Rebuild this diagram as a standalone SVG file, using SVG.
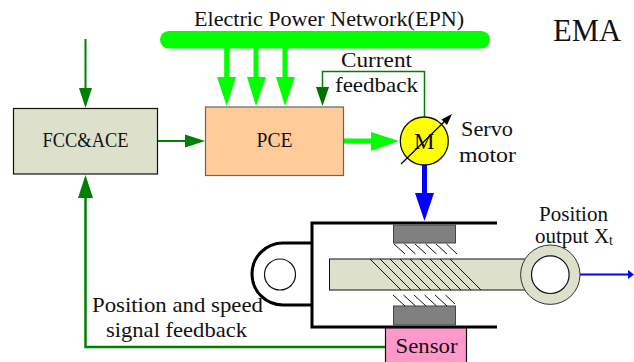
<svg xmlns="http://www.w3.org/2000/svg" width="634" height="362" viewBox="0 0 634 362">
<style>
text{font-family:"Liberation Serif","DejaVu Serif",serif;font-size:21px;fill:#111}
.g{fill:none;stroke:#008000;stroke-width:2}
.lg{fill:none;stroke:#00ff00;stroke-width:5}
.lgh{fill:#00ff00}
.dg{fill:#008000}
.h{stroke:#111;stroke-width:1;fill:none}
.k{fill:none;stroke:#000;stroke-width:3}
</style>
<rect width="634" height="362" fill="#fff"/>
<g id="connectors">
<path class="g" d="M85.500 39V90"/><path class="dg" d="M79 88H92L85.500 108Z"/>
<path class="g" d="M158 141H187"/><path class="dg" d="M185 134.500V147.500L205 141Z"/>
<path class="g" d="M385 347H85.500V196" style="stroke-width:2.500"/><path class="dg" d="M78 198H93L85.500 175Z"/>
<path d="M424.500 118V71.500H322.500V90" fill="none" stroke="#008000" stroke-width="1.500"/><path fill="#007000" d="M316 87H329L322.500 106Z"/>
<path class="lg" d="M226.700 48V79M256 48V79M285 48V79"/>
<path class="lgh" d="M217 77H236L226.700 106ZM247 77H266L256 106ZM276 77H295L285 106Z"/>
<path class="lg" d="M343 141H373"/><path class="lgh" d="M371 132V151L399 141Z"/>
<path fill="none" stroke="#0000ff" stroke-width="5" d="M424.500 165V195"/><path fill="#0000ff" d="M415 193H434L424.500 221Z"/>
<path fill="none" stroke="#0000ff" stroke-width="2" d="M580 274.500H629"/><path fill="#0000ff" d="M628 270V279L634 274.500Z"/>
</g>
<g id="epn"><rect x="160" y="31" width="330" height="17.500" rx="8.700" fill="#00ff00"/>
<text x="194" y="25.500" textLength="270" lengthAdjust="spacingAndGlyphs">Electric Power Network(EPN)</text></g>
<text x="553" y="41" style="font-size:31px" textLength="68" lengthAdjust="spacingAndGlyphs">EMA</text>
<g id="fcc"><rect x="13.500" y="108.500" width="144" height="65.500" fill="#dde1cc" stroke="#111" stroke-width="1.200"/>
<text x="85.500" y="147" text-anchor="middle" textLength="86" lengthAdjust="spacingAndGlyphs">FCC&amp;ACE</text></g>
<g id="pce"><rect x="205.500" y="107" width="138" height="68.500" fill="#ffcc99" stroke="#666" stroke-width="1.200"/>
<text x="274.500" y="147" text-anchor="middle" textLength="36" lengthAdjust="spacingAndGlyphs">PCE</text></g>
<g id="current-label"><text x="341" y="67" textLength="71" lengthAdjust="spacingAndGlyphs">Current</text><text x="335" y="91.500" textLength="83" lengthAdjust="spacingAndGlyphs">feedback</text></g>
<g id="motor"><circle cx="424.300" cy="141" r="24" fill="#ffff00" stroke="#111" stroke-width="1.300"/>
<text x="424.300" y="149" text-anchor="middle" style="font-size:23px">M</text>
<path d="M401 164L446 120" stroke="#000" stroke-width="1.200" fill="none"/><path d="M452 114L441.500 119.500L447 125Z" fill="#000"/>
<text x="461" y="136" textLength="52" lengthAdjust="spacingAndGlyphs">Servo</text><text x="459" y="161.500" textLength="57" lengthAdjust="spacingAndGlyphs">motor</text></g>
<g id="actuator">
<path class="k" d="M497 223H312V327H497M312 243H283A31 31 0 0 0 283 305H312"/>
<circle cx="280" cy="274.500" r="15.500" fill="#fff" stroke="#111" stroke-width="1.200"/>
<rect x="393.500" y="225" width="62" height="18" fill="#808080" stroke="#444"/>
<rect x="393.500" y="306" width="62" height="19" fill="#808080" stroke="#444"/>
<path class="h" d="M394 244L405 254M404.500 244L415.500 254M415 244L426 254M425.500 244L436.500 254M436 244L447 254M446.500 244L457 254M393 295L405 306M403.500 295L415.500 306M414 295L426 306M424.500 295L436.500 306M435 295L447 306M445.500 295L455 304"/>
<rect x="329.500" y="259" width="205" height="31" fill="#dde1cc" stroke="#111"/>
<path class="h" d="M370 259L401 290M380 259L411 290M390 259L421 290M400 259L431 290M410 259L441 290M420 259L451 290M430 259L461 290M440 259L471 290M450 259L481 290"/>
<circle cx="550.300" cy="274.700" r="24.300" fill="#fff" stroke="#dde1cc" stroke-width="11"/>
<circle cx="550.300" cy="274.700" r="29.700" fill="none" stroke="#333" stroke-width="1"/>
<circle cx="550.300" cy="274.700" r="18.800" fill="none" stroke="#111" stroke-width="1.200"/>
<text x="539" y="221" textLength="69" lengthAdjust="spacingAndGlyphs">Position</text>
<text x="535" y="243">output X<tspan dy="2" style="font-size:14px">t</tspan></text>
</g>
<g id="sensor"><rect x="385.500" y="328" width="81" height="35" fill="#ff99cc" stroke="#111" stroke-width="1.200"/>
<text x="426.500" y="352.500" text-anchor="middle" textLength="62" lengthAdjust="spacingAndGlyphs">Sensor</text></g>
<g id="feedback-label"><text x="92" y="312" textLength="171" lengthAdjust="spacingAndGlyphs">Position and speed</text><text x="106" y="337" textLength="141" lengthAdjust="spacingAndGlyphs">signal feedback</text></g>
</svg>
